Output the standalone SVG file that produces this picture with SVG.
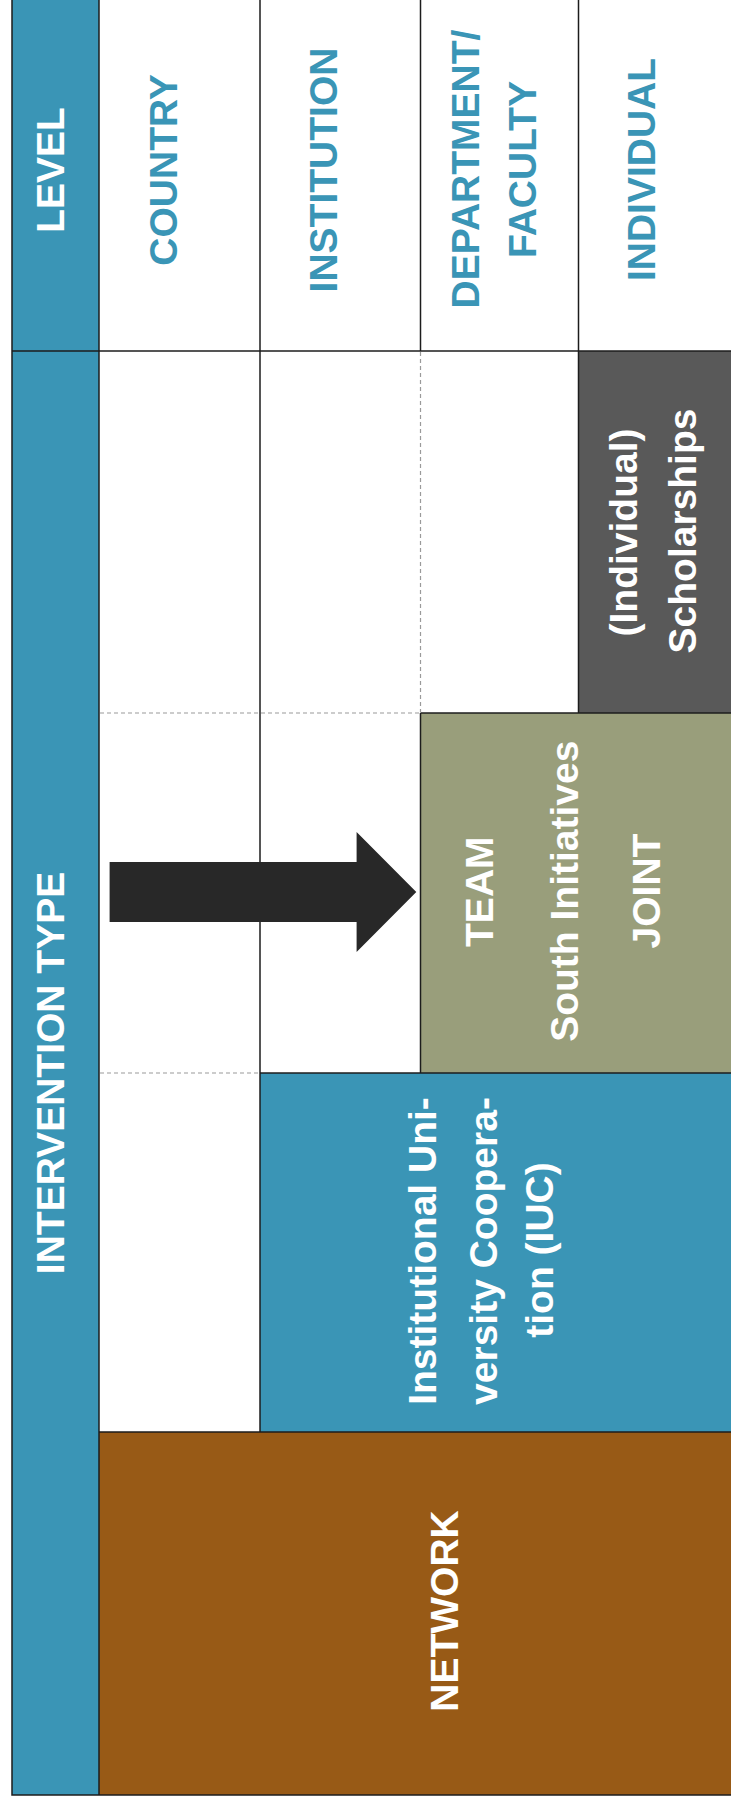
<svg xmlns="http://www.w3.org/2000/svg" width="731" height="1804" viewBox="0 0 731 1804">
<style>
.t{font-family:"Liberation Sans",Arial,sans-serif;font-weight:bold;font-size:39px;text-anchor:middle}
.w{fill:#ffffff}
.hb{fill:#3A95B6}
.ln{stroke:#1c1c1c;stroke-width:1.5;fill:none}
.dash{stroke:#9a9a9a;stroke-width:1.2;stroke-dasharray:4 3;fill:none}
</style>
<rect x="0" y="0" width="731" height="1804" fill="#ffffff"/>

<g id="level-header">
<rect x="12" y="0" width="87" height="351" fill="#3A95B6"/>
<text class="t w" transform="translate(64,170) rotate(-90)">LEVEL</text>
</g>
<g id="country">
<text class="t hb" transform="translate(176.5,170) rotate(-90)">COUNTRY</text>
</g>
<g id="institution">
<text class="t hb" transform="translate(336.5,170) rotate(-90)">INSTITUTION</text>
</g>
<g id="department-faculty">
<text class="t hb" transform="translate(479,169) rotate(-90)">DEPARTMENT/</text>
<text class="t hb" transform="translate(536,169.5) rotate(-90)">FACULTY</text>
</g>
<g id="individual">
<text class="t hb" transform="translate(655.3,169.5) rotate(-90)">INDIVIDUAL</text>
</g>

<g id="intervention-type">
<rect x="12" y="351" width="87" height="1444" fill="#3A95B6"/>
<text class="t w" transform="translate(64,1073) rotate(-90)">INTERVENTION TYPE</text>
</g>

<g id="scholarships">
<rect x="578.5" y="351" width="152.5" height="362" fill="#595959"/>
<text class="t w" transform="translate(636.5,532.5) rotate(-90)">(Individual)</text>
<text class="t w" transform="translate(696,531) rotate(-90)">Scholarships</text>
</g>

<g id="team-joint">
<rect x="420.5" y="713" width="310.5" height="360" fill="#999E7B"/>
<text class="t w" transform="translate(492.7,891.7) rotate(-90)">TEAM</text>
<text class="t w" transform="translate(577.7,891.2) rotate(-90)">South Initiatives</text>
<text class="t w" transform="translate(660,891) rotate(-90)">JOINT</text>
</g>

<g id="iuc">
<rect x="260" y="1073" width="471" height="359" fill="#3A95B6"/>
<text class="t w" transform="translate(435.5,1251) rotate(-90)">Institutional Uni-</text>
<text class="t w" transform="translate(497,1251) rotate(-90)">versity Coopera-</text>
<text class="t w" transform="translate(553,1250) rotate(-90)">tion (IUC)</text>
</g>

<g id="network">
<rect x="99" y="1432" width="632" height="363" fill="#985A16"/>
<text class="t w" transform="translate(458,1611) rotate(-90)">NETWORK</text>
</g>

<g id="grid">
<path class="ln" d="M12,0 V1795 H731"/>
<path class="ln" d="M99,0 V1795"/>
<path class="ln" d="M260,0 V1432"/>
<path class="ln" d="M420.5,0 V351 M420.5,713 V1073"/>
<path class="ln" d="M578.5,0 V713"/>
<path class="ln" d="M12,351 H731"/>
<path class="ln" d="M420.5,713 H731"/>
<path class="ln" d="M260,1073 H731"/>
<path class="ln" d="M99,1432 H731"/>
<path class="dash" d="M420.5,352 V712"/>
<path class="dash" d="M100,713 H419.5"/>
<path class="dash" d="M100,1073 H259"/>
</g>

<g id="connectors">
<polygon points="109.6,862 356.6,862 356.6,832 416.3,892 356.6,952 356.6,922 109.6,922" fill="#282828"/>
</g>
</svg>
